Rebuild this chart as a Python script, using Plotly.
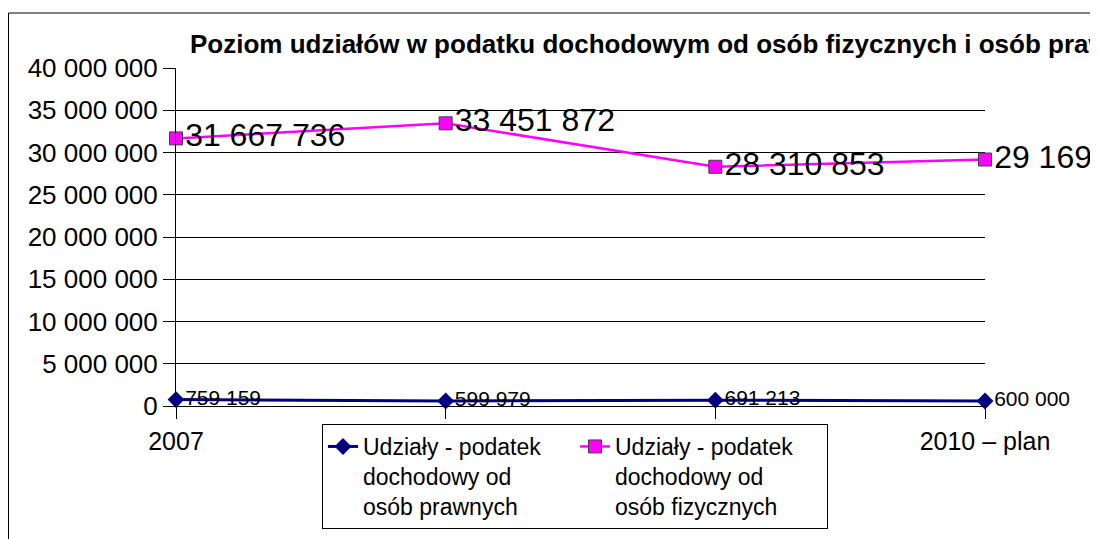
import plotly.graph_objects as go

# ---- data ----
years = ["2007", "2008", "2009", "2010 – plan"]
prawne = [759159, 599979, 691213, 600000]
fizyczne = [31667736, 33451872, 28310853, 29169000]
name_prawne = "Udziały - podatek<br>dochodowy od<br>osób prawnych"
name_fizyczne = "Udziały - podatek<br>dochodowy od<br>osób fizycznych"
title_text = "Poziom udziałów w podatku dochodowym od osób fizycznych i osób prawnych"
y_ticks = [0, 5000000, 10000000, 15000000, 20000000, 25000000, 30000000, 35000000, 40000000]

# only first and last category labels are visible (legend sits over the middle)
tick_text = [y if i in (0, len(years) - 1) else "" for i, y in enumerate(years)]

FONT = "Liberation Sans, Arial, sans-serif"
W, H = 1098, 539
OFF = 8  # page body margin
L, T = 176 - OFF, 68 - OFF
R = W - (985 - OFF)
B = H - (406 - OFF)
PW, PH = W - L - R, H - T - B

def px_x(px):  # figure pixel -> paper
    return (px - L) / PW

def px_y(py):
    return (H - B - py) / PH

fig = go.Figure()
fig.add_trace(go.Scatter(
    x=years, y=prawne, name=name_prawne, mode="lines+markers+text",
    line=dict(color="#000080", width=3),
    marker=dict(symbol="diamond", size=13, color="#000080"),
    texttemplate="%{y:,d}", textposition="middle right",
    textfont=dict(family=FONT, size=21, color="black"),
    cliponaxis=False,
))
fig.add_trace(go.Scatter(
    x=years, y=fizyczne, name=name_fizyczne, mode="lines+markers+text",
    line=dict(color="#FF00FF", width=2.5),
    marker=dict(symbol="square", size=13, color="#FF00FF",
                line=dict(color="#404040", width=1)),
    texttemplate="%{y:,d}", textposition="middle right",
    textfont=dict(family=FONT, size=32, color="black"),
    cliponaxis=False,
))

fig.update_layout(
    width=W, height=H,
    margin=dict(l=L, r=R, t=T, b=B, autoexpand=False),
    paper_bgcolor="white", plot_bgcolor="white",
    separators=", ",
    font=dict(family=FONT, color="black"),
    title=dict(text="<b>" + title_text + "</b>",
               font=dict(family=FONT, size=26, color="black"),
               xref="container", x=(190 - OFF) / W, xanchor="left",
               yref="container", y=1 - (44 - OFF) / H, yanchor="middle"),
    showlegend=True,
    legend=dict(
        orientation="h", xref="container", yref="container",
        x=(322 - OFF) / W, xanchor="left", y=1 - (424 - OFF) / H, yanchor="top",
        bgcolor="white", bordercolor="black", borderwidth=1,
        font=dict(family=FONT, size=23, color="black"),
        valign="top", itemwidth=30, entrywidth=207, entrywidthmode="pixels",
    ),
    xaxis=dict(
        type="category", range=[0, 3], showgrid=False,
        tickmode="array", tickvals=years, ticktext=tick_text,
        showline=True, linecolor="black", linewidth=1,
        ticks="outside", ticklen=12, tickcolor="black",
        tickfont=dict(family=FONT, size=25, color="black"),
        ticklabelstandoff=1, zeroline=False,
    ),
    yaxis=dict(
        range=[0, 40000000], tickvals=y_ticks, tickformat=",d",
        showgrid=True, gridcolor="black", gridwidth=1,
        showline=True, linecolor="black", linewidth=1,
        ticks="outside", ticklen=12, tickcolor="black",
        tickfont=dict(family=FONT, size=26, color="black"),
        ticklabelstandoff=0, zeroline=False,
    ),
    shapes=[
        dict(type="rect", xref="paper", yref="paper",
             x0=px_x(1084), x1=px_x(1110), y0=px_y(560), y1=px_y(-10),
             fillcolor="white", line=dict(width=0), layer="above"),
        dict(type="rect", xref="paper", yref="paper",
             x0=px_x(0.5), x1=px_x(1083), y0=px_y(560), y1=px_y(5),
             fillcolor="rgba(0,0,0,0)", line=dict(color="black", width=1),
             layer="above"),
    ],
)

fig.write_html("out.html")
